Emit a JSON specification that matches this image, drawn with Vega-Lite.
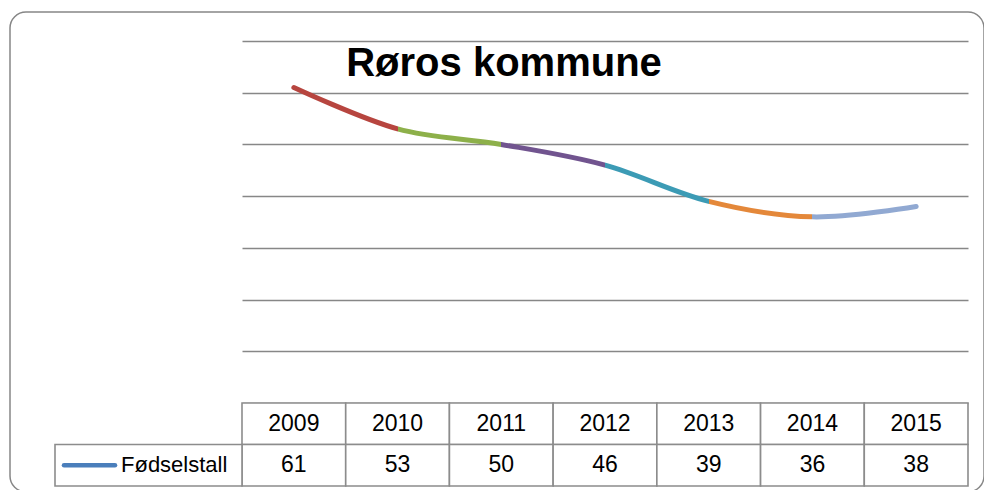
{
  "$schema": "https://vega.github.io/schema/vega-lite/v6.json",
  "width": 974,
  "height": 480,
  "autosize": {"type": "none"},
  "padding": {"left": 10, "top": 12, "right": 0, "bottom": 0},
  "background": "white",
  "config": {
    "view": {"stroke": "#868686", "strokeWidth": 1.5, "cornerRadius": 16, "fill": "white"},
    "font": "Liberation Sans"
  },
  "title": {
    "text": "Røros kommune",
    "font": "Liberation Sans",
    "fontSize": 40,
    "fontWeight": "bold",
    "color": "#000000",
    "anchor": "middle",
    "frame": "group",
    "baseline": "alphabetic",
    "offset": 0,
    "dy": 104,
    "dx": 7
  },
  "datasets": {
    "births": [
      {"year": "2009", "count": 61},
      {"year": "2010", "count": 53},
      {"year": "2011", "count": 50},
      {"year": "2012", "count": 46},
      {"year": "2013", "count": 39},
      {"year": "2014", "count": 36},
      {"year": "2015", "count": 38}
    ],
    "legend": [{"label": "Fødselstall"}]
  },
  "resolve": {"scale": {"x": "independent", "y": "independent"}},
  "layer": [
    {
      "data": {"name": "births"},
      "mark": {
        "type": "line",
        "interpolate": "cardinal",
        "strokeWidth": 5,
        "strokeCap": "round",
        "stroke": {
          "gradient": "linear",
          "x1": 0, "x2": 1, "y1": 0, "y2": 0,
          "stops": [
            {"offset": 0, "color": "#b7453f"},
            {"offset": 0.1667, "color": "#b7453f"},
            {"offset": 0.1667, "color": "#8db04a"},
            {"offset": 0.3333, "color": "#8db04a"},
            {"offset": 0.3333, "color": "#71548f"},
            {"offset": 0.5, "color": "#71548f"},
            {"offset": 0.5, "color": "#3c9bb5"},
            {"offset": 0.6667, "color": "#3c9bb5"},
            {"offset": 0.6667, "color": "#e4883a"},
            {"offset": 0.8333, "color": "#e4883a"},
            {"offset": 0.8333, "color": "#91a9d2"},
            {"offset": 1, "color": "#91a9d2"}
          ]
        }
      },
      "encoding": {
        "x": {
          "field": "year",
          "type": "ordinal",
          "scale": {"type": "point", "range": [232, 958], "padding": 0.5},
          "axis": null
        },
        "y": {
          "field": "count",
          "type": "quantitative",
          "scale": {"domain": [0, 70], "range": [391, 29], "nice": false, "zero": false},
          "axis": {
            "values": [0, 10, 20, 30, 40, 50, 60, 70],
            "grid": true,
            "gridColor": "#878787",
            "gridWidth": 1.6,
            "labels": false,
            "ticks": false,
            "domain": false,
            "title": null
          }
        }
      }
    },
    {
      "data": {"name": "births"},
      "encoding": {
        "x": {
          "field": "year",
          "type": "ordinal",
          "scale": {"type": "band", "range": [232, 958], "paddingInner": 0, "paddingOuter": 0},
          "axis": null
        }
      },
      "layer": [
        {
          "mark": {"type": "rect", "fill": "white", "stroke": "#8c8c8c", "strokeWidth": 1.6},
          "encoding": {
            "y": {"datum": "header", "type": "nominal", "scale": {"domain": ["header", "value"], "range": [391, 474], "paddingInner": 0, "paddingOuter": 0}, "axis": null}
          }
        },
        {
          "mark": {"type": "rect", "fill": "white", "stroke": "#8c8c8c", "strokeWidth": 1.6},
          "encoding": {
            "y": {"datum": "value", "type": "nominal"}
          }
        },
        {
          "mark": {"type": "text", "fontSize": 23, "baseline": "middle", "align": "center", "color": "#000000"},
          "encoding": {
            "y": {"datum": "header", "type": "nominal"},
            "text": {"field": "year"}
          }
        },
        {
          "mark": {"type": "text", "fontSize": 23, "baseline": "middle", "align": "center", "color": "#000000"},
          "encoding": {
            "y": {"datum": "value", "type": "nominal"},
            "text": {"field": "count"}
          }
        }
      ]
    },
    {
      "data": {"name": "legend"},
      "layer": [
        {
          "mark": {"type": "rect", "fill": "white", "stroke": "#8c8c8c", "strokeWidth": 1.6},
          "encoding": {
            "x": {"datum": 0, "type": "quantitative", "scale": {"domain": [0, 1], "range": [45, 232], "nice": false, "zero": false}, "axis": null},
            "x2": {"datum": 1},
            "y": {"datum": "value", "type": "nominal", "scale": {"domain": ["header", "value"], "range": [391, 474], "paddingInner": 0, "paddingOuter": 0}, "axis": null}
          }
        },
        {
          "mark": {"type": "rule", "stroke": "#4a7ebb", "strokeWidth": 4.5, "strokeCap": "round"},
          "encoding": {
            "x": {"datum": 0.048, "type": "quantitative"},
            "x2": {"datum": 0.321},
            "y": {"datum": "value", "type": "nominal", "bandPosition": 0.5}
          }
        },
        {
          "mark": {"type": "text", "fontSize": 22, "baseline": "middle", "align": "left", "color": "#000000"},
          "encoding": {
            "x": {"datum": 0.353, "type": "quantitative"},
            "y": {"datum": "value", "type": "nominal", "bandPosition": 0.5},
            "text": {"field": "label"}
          }
        }
      ]
    }
  ]
}
